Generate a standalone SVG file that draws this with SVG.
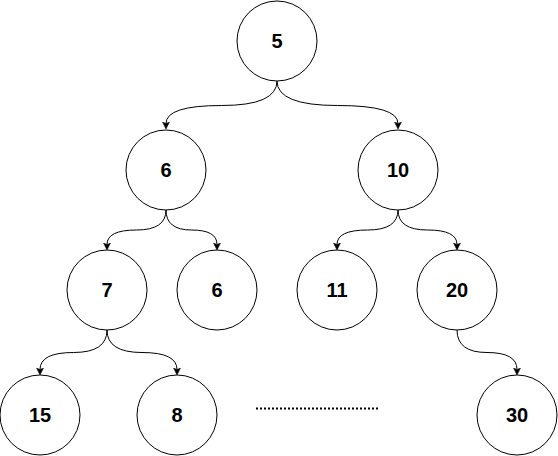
<svg xmlns="http://www.w3.org/2000/svg" width="558" height="456" viewBox="0 0 558 456">
<style>
.node circle{fill:#ffffff;stroke:#000000;stroke-width:1}
.node text{font-family:"Liberation Sans",Arial,Helvetica,sans-serif;font-size:20px;font-weight:bold;text-anchor:middle;fill:#000000}
.edge{fill:none;stroke:#000000;stroke-width:1;marker-end:url(#arrow)}
</style>
<defs>
<marker id="arrow" markerUnits="userSpaceOnUse" markerWidth="8" markerHeight="8" refX="1.5" refY="3.5" orient="auto">
<path d="M0,0 L7,3.5 L0,7 L1.5,3.5 Z" fill="#000000" stroke="#000000" stroke-width="0.5"/>
</marker>
</defs>
<rect width="558" height="456" fill="#ffffff"/>
<g id="connectors">
<path class="edge" d="M277,81 Q277,105.5 221.5,105.5 Q166,105.5 166,123.5"/>
<path class="edge" d="M277,81 Q277,105.5 337.5,105.5 Q398,105.5 398,123.5"/>
<path class="edge" d="M166,210 Q166,230 136.5,230 Q107,230 107,244.5"/>
<path class="edge" d="M166,210 Q166,230 191.5,230 Q217,230 217,244.5"/>
<path class="edge" d="M398,210 Q398,230 367.5,230 Q337,230 337,244.5"/>
<path class="edge" d="M398,210 Q398,230 427.5,230 Q457,230 457,244.5"/>
<path class="edge" d="M107,330 Q107,352.5 73.5,352.5 Q40,352.5 40,369.5"/>
<path class="edge" d="M107,330 Q107,352.5 142,352.5 Q177,352.5 177,369.5"/>
<path class="edge" d="M457,330 Q457,352.5 487,352.5 Q517,352.5 517,369.5"/>
</g>
<g id="n5" class="node"><circle cx="277" cy="41" r="40"/><text x="277" y="48">5</text></g>
<g id="n6" class="node"><circle cx="166" cy="170" r="40"/><text x="166" y="177">6</text></g>
<g id="n10" class="node"><circle cx="398" cy="170" r="40"/><text x="398" y="177">10</text></g>
<g id="n7" class="node"><circle cx="107" cy="290" r="40"/><text x="107" y="297">7</text></g>
<g id="n6b" class="node"><circle cx="217" cy="290" r="40"/><text x="217" y="297">6</text></g>
<g id="n11" class="node"><circle cx="337" cy="290" r="40"/><text x="337" y="297">11</text></g>
<g id="n20" class="node"><circle cx="457" cy="290" r="40"/><text x="457" y="297">20</text></g>
<g id="n15" class="node"><circle cx="40" cy="415" r="40"/><text x="40" y="422">15</text></g>
<g id="n8" class="node"><circle cx="177" cy="415" r="40"/><text x="177" y="422">8</text></g>
<g id="n30" class="node"><circle cx="517" cy="415" r="40"/><text x="517" y="422">30</text></g>
<line id="ellipsis" x1="256" y1="408.5" x2="379" y2="408.5" stroke="#000000" stroke-width="2" stroke-dasharray="2 2"/>
</svg>
